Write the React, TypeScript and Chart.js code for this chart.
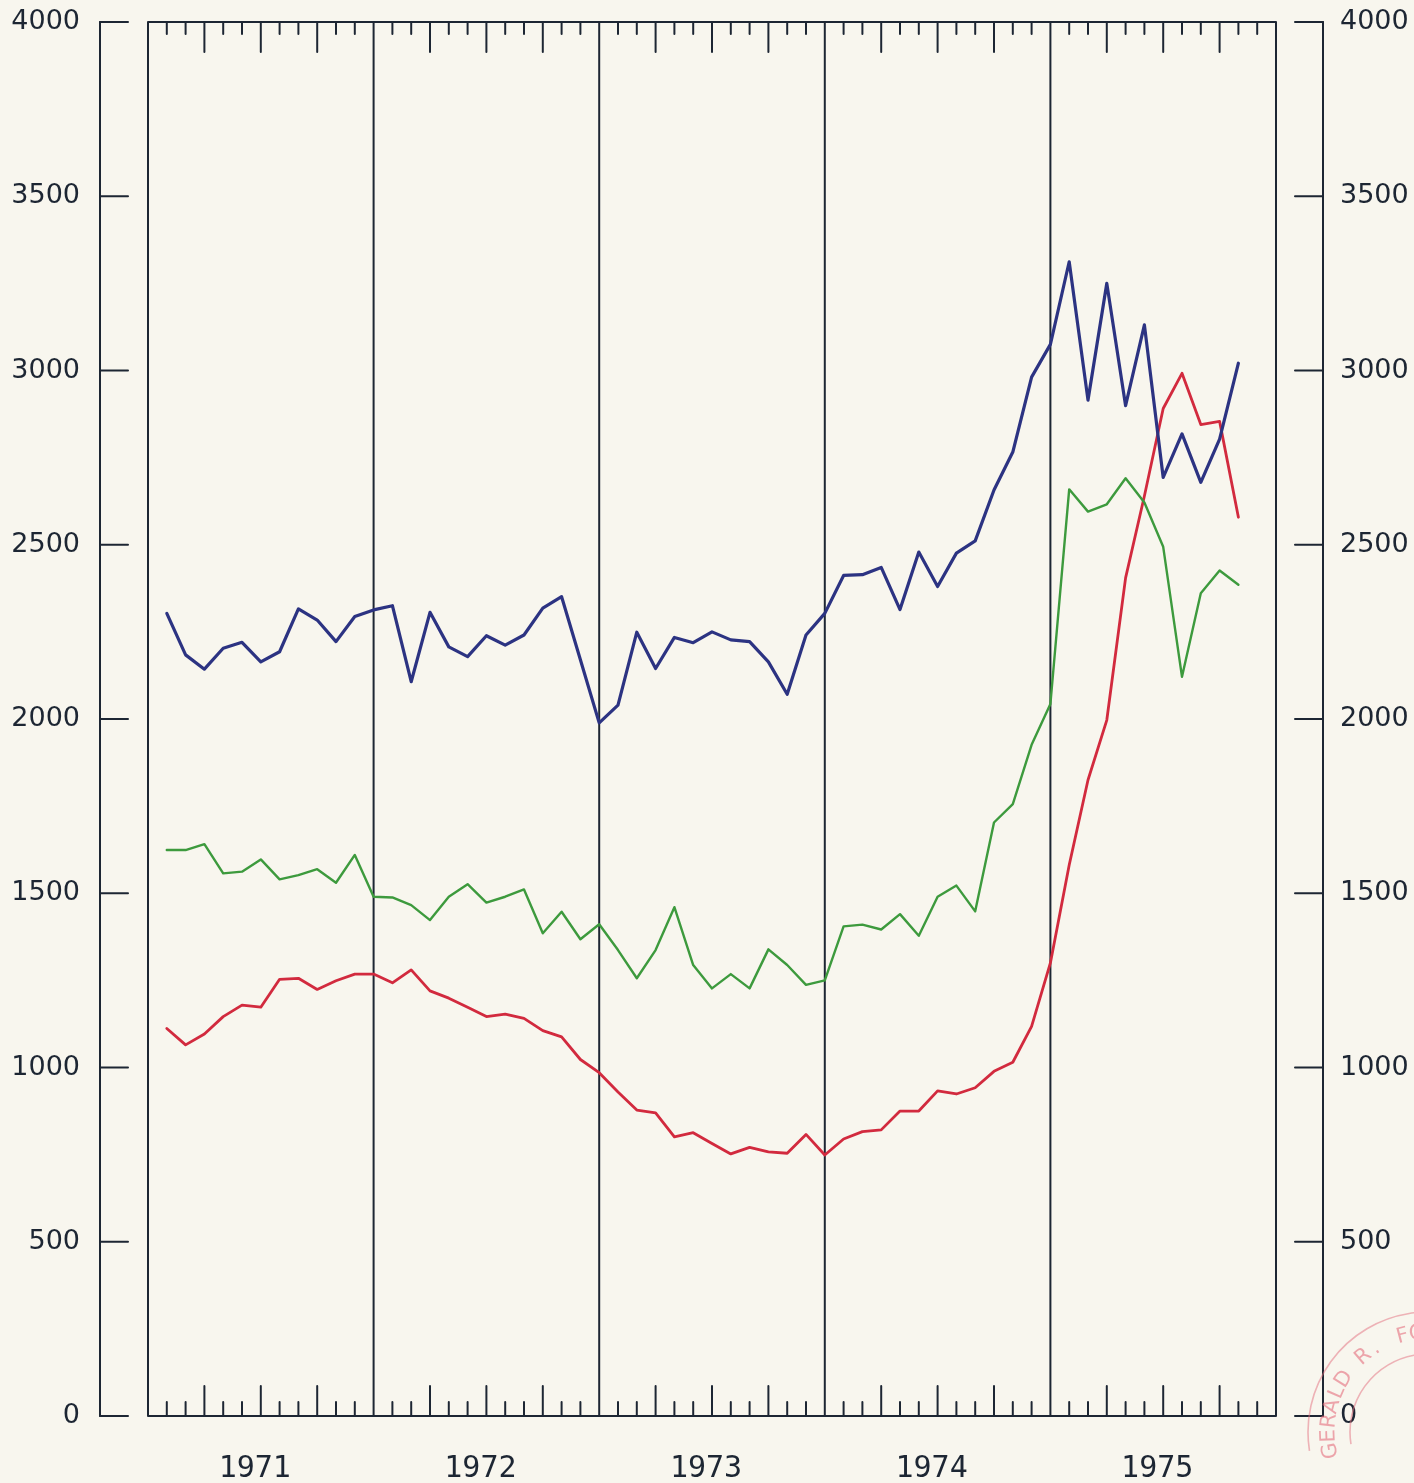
import React, { useEffect, useRef } from 'react';
import { Chart, registerables } from 'chart.js';

Chart.register(...registerables);

// ---- data (monthly, Jan 1971 .. Oct 1975, plotted at month end) ----
const yearLabels = ['1971', '1972', '1973', '1974', '1975'];
const yearMidMonths = [6, 18, 30, 42, 54];
const yTickValues = [0, 500, 1000, 1500, 2000, 2500, 3000, 3500, 4000];

const blueSeries = [
  2303, 2184, 2143, 2203, 2220, 2164, 2193, 2316, 2284, 2222, 2294, 2313,
  2325, 2107, 2306, 2207, 2179, 2239, 2212, 2241, 2318, 2351, 2170, 1989,
  2040, 2249, 2145, 2234, 2219, 2250, 2227, 2222, 2164, 2071, 2241, 2303,
  2412, 2414, 2435, 2314, 2479, 2380, 2476, 2511, 2657, 2766, 2981, 3075,
  3312, 2915, 3250, 2899, 3131, 2693, 2818, 2679, 2803, 3021,
];

const greenSeries = [
  1624, 1624, 1641, 1557, 1562, 1597, 1540, 1552, 1569, 1530, 1610, 1490,
  1488, 1466, 1423, 1490, 1526, 1473, 1490, 1511, 1385, 1447, 1368, 1411,
  1337, 1256, 1337, 1460, 1294, 1227, 1268, 1227, 1339, 1294, 1237, 1250,
  1405, 1410, 1396, 1440, 1378, 1490, 1522, 1448, 1703, 1756, 1926, 2043,
  2659, 2595, 2616, 2691, 2621, 2494, 2121, 2361, 2426, 2385,
];

const redSeries = [
  1112, 1065, 1096, 1146, 1179, 1173, 1253, 1256, 1224, 1249, 1268, 1268,
  1243, 1280, 1220, 1199, 1173, 1146, 1153, 1141, 1106, 1088, 1023, 985,
  930, 878, 870, 801, 813, 782, 752, 771, 758, 754, 808, 749,
  795, 816, 821, 875, 875, 933, 924, 942, 989, 1015, 1118, 1300,
  1581, 1825, 1997, 2405, 2640, 2891, 2992, 2845, 2854, 2579,
];

const PAPER = '#f8f6ee';
const INK = '#1d2633';
const BLUE = '#2c3382';
const GREEN = '#3d9a3d';
const RED = '#d22a3e';

const toPoints = (arr: number[]) => arr.map((v, i) => ({ x: i + 1, y: v }));

const framePlugin = {
  id: 'frame',
  beforeDraw(chart: any) {
    const { ctx, width, height } = chart;
    ctx.save();
    ctx.fillStyle = PAPER;
    ctx.fillRect(0, 0, width, height);
    ctx.restore();
  },
  beforeDatasetsDraw(chart: any) {
    const { ctx, chartArea: a, scales } = chart;
    const x = scales.x;
    const y = scales.y;
    ctx.save();
    ctx.strokeStyle = INK;
    ctx.lineWidth = 2;
    ctx.lineCap = 'round';
    ctx.lineJoin = 'round';
    const line = (x1: number, y1: number, x2: number, y2: number) => {
      ctx.beginPath();
      ctx.moveTo(x1, y1);
      ctx.lineTo(x2, y2);
      ctx.stroke();
    };
    // plot box
    ctx.strokeRect(a.left, a.top, a.right - a.left, a.bottom - a.top);
    // year boundaries and month ticks
    for (let m = 1; m < 60; m++) {
      const px = x.getPixelForValue(m);
      if (m % 12 === 0) {
        line(px, a.top, px, a.bottom);
      } else {
        const quarter = m % 3 === 0;
        line(px, a.top, px, a.top + (quarter ? 30 : 12));
        line(px, a.bottom, px, a.bottom - (quarter ? 30 : 14));
      }
    }
    // outer left and right axes
    const yTop = y.getPixelForValue(4000);
    const yBot = y.getPixelForValue(0);
    const lx = a.left - 48;
    const rx = a.right + 47;
    line(lx, yTop, lx, yBot);
    line(rx, yTop, rx, yBot);
    yTickValues.forEach((v) => {
      const py = y.getPixelForValue(v);
      line(lx, py, lx + 28, py);
      line(rx, py, rx - 28, py);
    });
    ctx.restore();
  },
  afterDraw(chart: any) {
    // faint archive stamp in the lower right corner
    const { ctx } = chart;
    const cx = 1428;
    const cy = 1432;
    ctx.save();
    ctx.strokeStyle = 'rgba(228, 110, 125, 0.5)';
    ctx.fillStyle = 'rgba(228, 110, 125, 0.6)';
    ctx.lineWidth = 1.6;
    ctx.beginPath();
    ctx.arc(cx, cy, 120, Math.PI * 0.95, Math.PI * 1.6);
    ctx.stroke();
    ctx.beginPath();
    ctx.arc(cx, cy, 78, Math.PI * 0.95, Math.PI * 1.6);
    ctx.stroke();
    const text = 'GERALD R. FORD';
    ctx.font = '21px "DejaVu Sans"';
    ctx.textAlign = 'center';
    ctx.textBaseline = 'middle';
    let ang = Math.PI * 0.94;
    for (const ch of text) {
      ctx.save();
      ctx.translate(cx + Math.cos(ang) * 99, cy + Math.sin(ang) * 99);
      ctx.rotate(ang + Math.PI / 2);
      ctx.fillText(ch, 0, 0);
      ctx.restore();
      ang += 0.15;
    }
    ctx.restore();
  },
};

export default function App() {
  const ref = useRef<HTMLCanvasElement | null>(null);

  useEffect(() => {
    if (!ref.current) return;
    const yFont = { family: '"DejaVu Sans"', size: 27 };
    const chart = new Chart(ref.current, {
      type: 'line',
      data: {
        datasets: [
          { data: toPoints(blueSeries), borderColor: BLUE, borderWidth: 3.2 },
          { data: toPoints(greenSeries), borderColor: GREEN, borderWidth: 2.4 },
          { data: toPoints(redSeries), borderColor: RED, borderWidth: 2.8 },
        ].map((d) => ({
          ...d,
          pointRadius: 0,
          tension: 0,
          fill: false,
          borderJoinStyle: 'round' as const,
          borderCapStyle: 'round' as const,
        })),
      },
      options: {
        responsive: false,
        animation: false,
        layout: { padding: { top: 22, left: 0, right: 0, bottom: 0 } },
        plugins: { legend: { display: false }, tooltip: { enabled: false } },
        scales: {
          x: {
            type: 'linear',
            min: 0,
            max: 60,
            position: 'bottom',
            grid: { display: false, drawTicks: false },
            border: { display: false },
            afterBuildTicks: (scale: any) => {
              scale.ticks = yearMidMonths.map((v) => ({ value: v }));
            },
            afterFit: (scale: any) => {
              scale.height = 67;
              scale.paddingLeft = 0;
              scale.paddingRight = 0;
            },
            ticks: {
              autoSkip: false,
              maxRotation: 0,
              padding: 35,
              labelOffset: -6,
              color: INK,
              font: { family: '"DejaVu Sans Mono"', size: 30 },
              callback: (_v: any, i: number) => yearLabels[i],
            },
          },
          y: {
            type: 'linear',
            position: 'left',
            min: 0,
            max: 4000,
            grid: { display: false, drawTicks: false },
            border: { display: false },
            afterFit: (scale: any) => {
              scale.width = 148;
              scale.paddingTop = 0;
              scale.paddingBottom = 0;
            },
            ticks: {
              stepSize: 500,
              padding: 68,
              color: INK,
              font: yFont,
              callback: (v: any) => String(v),
            },
          },
          y2: {
            type: 'linear',
            position: 'right',
            min: 0,
            max: 4000,
            grid: { display: false, drawTicks: false },
            border: { display: false },
            afterFit: (scale: any) => {
              scale.width = 138;
              scale.paddingTop = 0;
              scale.paddingBottom = 0;
            },
            ticks: {
              stepSize: 500,
              padding: 64,
              color: INK,
              font: yFont,
              callback: (v: any) => String(v),
            },
          },
        },
      },
      plugins: [framePlugin],
    } as any);
    return () => chart.destroy();
  }, []);

  return (
    <div
      style={{
        position: 'absolute',
        left: 0,
        top: 0,
        width: 1414,
        height: 1483,
        background: PAPER,
        overflow: 'hidden',
      }}
    >
      <canvas ref={ref} width={1414} height={1483} />
    </div>
  );
}
